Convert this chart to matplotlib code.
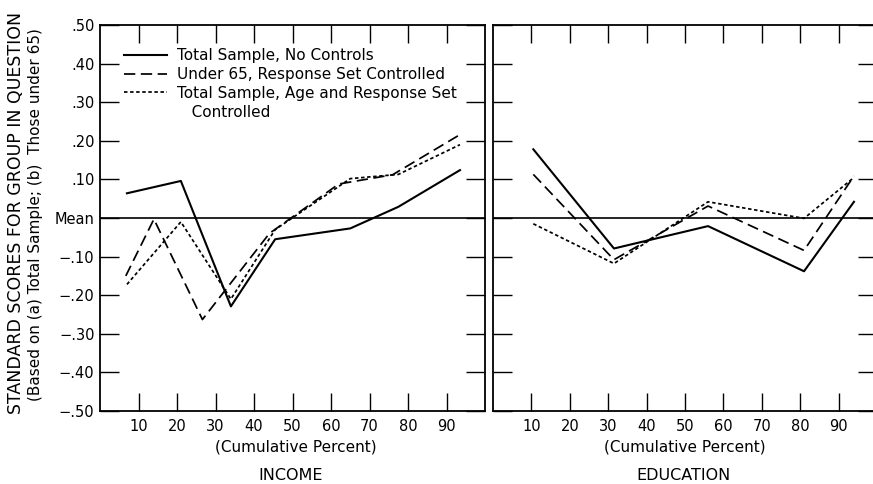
import matplotlib
matplotlib.use("Agg")
import matplotlib.pyplot as plt
from matplotlib.lines import Line2D

plt.rcParams['font.family'] = ['DejaVu Sans']

# Income panel (cumulative percent of sample)
income_pct_total = [7, 21, 34, 45.5, 65, 77.5, 93.5]
income_no_controls = [0.064, 0.096, -0.229, -0.055, -0.027, 0.029, 0.124]
income_age_resp = [-0.172, -0.010, -0.210, -0.030, 0.102, 0.113, 0.190]
income_pct_under65 = [6.7, 14, 26.6, 44, 62, 76, 93.5]
income_under65 = [-0.150, -0.003, -0.263, -0.040, 0.088, 0.112, 0.216]

# Education panel
edu_pct = [10.5, 31.5, 56, 81, 94]
edu_no_controls = [0.178, -0.079, -0.021, -0.138, 0.042]
edu_under65 = [0.113, -0.108, 0.031, -0.084, 0.109]
edu_age_resp = [-0.015, -0.118, 0.042, -0.001, 0.105]

x_ticks = [10, 20, 30, 40, 50, 60, 70, 80, 90]
y_ticks = [0.5, 0.4, 0.3, 0.2, 0.1, 0.0, -0.1, -0.2, -0.3, -0.4, -0.5]
y_tick_labels = ['.50', '.40', '.30', '.20', '.10', 'Mean',
                 '\u2212.10', '\u2212.20', '\u2212.30', '\u2212.40', '\u2212.50']

series_labels = ['Total Sample, No Controls',
                 'Under 65, Response Set Controlled',
                 'Total Sample, Age and Response Set']

W, H = 873, 484
fig = plt.figure(figsize=(W / 100, H / 100), dpi=100)
axL = fig.add_axes([100 / W, 73 / H, 385 / W, 386 / H])
axR = fig.add_axes([493 / W, 73 / H, 384 / W, 386 / H])

solid_kw = dict(color='black', lw=1.5, linestyle='-')
long_kw = dict(color='black', lw=1.25, linestyle=(0, (6.5, 3.2)))
short_kw = dict(color='black', lw=1.25, linestyle=(0, (2.0, 1.5)))

for ax in (axL, axR):
    ax.set_xlim(0, 100)
    ax.set_ylim(-0.5, 0.5)
    ax.axhline(0, color='black', lw=1.2, zorder=1)
    ax.set_xticks(x_ticks)
    ax.set_xticklabels([str(t) for t in x_ticks])
    ax.set_yticks(y_ticks)
    ax.tick_params(axis='x', direction='in', length=13, width=1.0,
                   top=True, bottom=True, labelsize=10.5, pad=6)
    ax.tick_params(axis='y', direction='in', length=14, width=1.0,
                   left=True, right=True, labelsize=10.5, pad=4)
    for s in ax.spines.values():
        s.set_linewidth(1.3)

axL.set_yticklabels(y_tick_labels)
axR.tick_params(axis='y', labelleft=False)

axL.plot(income_pct_total, income_no_controls, **solid_kw)
axL.plot(income_pct_under65, income_under65, **long_kw)
axL.plot(income_pct_total, income_age_resp, **short_kw)

axR.plot(edu_pct, edu_no_controls, **solid_kw)
axR.plot(edu_pct, edu_under65, **long_kw)
axR.plot(edu_pct, edu_age_resp, **short_kw)

handles = [Line2D([], [], **solid_kw), Line2D([], [], **long_kw),
           Line2D([], [], **short_kw), Line2D([], [], color='none')]
labels = series_labels + ['   Controlled']
axL.legend(handles, labels, loc='upper left', bbox_to_anchor=(0.062, 0.94),
           frameon=False, fontsize=11, handlelength=2.85, handletextpad=0.65,
           labelspacing=0.25, borderpad=0, borderaxespad=0)

# Axis titles
fig.text(296 / W, 1 - 447 / H, '(Cumulative Percent)', ha='center', va='center', fontsize=11)
fig.text(291 / W, 1 - 475 / H, 'INCOME', ha='center', va='center', fontsize=11.5)
fig.text(685 / W, 1 - 447 / H, '(Cumulative Percent)', ha='center', va='center', fontsize=11)
fig.text(683 / W, 1 - 475 / H, 'EDUCATION', ha='center', va='center', fontsize=11.5)

fig.text(16 / W, 1 - 213 / H, 'STANDARD SCORES FOR GROUP IN QUESTION',
         rotation=90, ha='center', va='center', fontsize=12.5)
fig.text(36 / W, 1 - 215 / H, '(Based on (a) Total Sample; (b)  Those under 65)',
         rotation=90, ha='center', va='center', fontsize=11)

fig.savefig('out.png', dpi=100)
